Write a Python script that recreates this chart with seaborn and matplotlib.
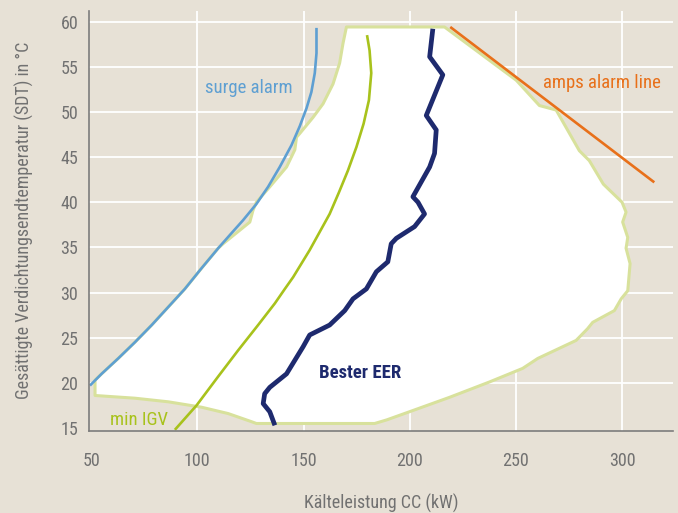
import matplotlib
matplotlib.use("Agg")
import matplotlib.pyplot as plt
from matplotlib import font_manager
import seaborn as sns
import pandas as pd

# --- data -----------------------------------------------------------------
# operating envelope (kW, SDT °C), traced clockwise from the lower left corner
envelope_kw = [51.8, 51.8, 70.6, 86.3, 102.0, 114.5, 125.5, 127.8, 183.5, 189.2,
               199.9, 218.8, 237.6, 253.2, 260.3, 278.4, 283.8, 286.2, 296.4, 299.6,
               302.7, 303.8, 301.9, 302.7, 300.3, 301.9, 300.0, 291.2, 284.6, 279.9,
               269.0, 264.3, 261.1, 250.2, 216.4, 170.2, 168.6, 167.0, 163.9, 159.2,
               154.5, 148.2, 146.7, 145.9, 142.0, 134.1, 127.8, 126.2, 124.7, 120.0,
               112.1, 109.8, 102.0, 94.1, 86.3, 78.5, 70.6, 62.7, 54.9]
envelope_sdt = [20.3, 18.6, 18.3, 17.9, 17.3, 16.6, 15.7, 15.5, 15.5, 15.9,
                16.8, 18.4, 20.1, 21.6, 22.7, 24.7, 26.0, 26.7, 28.0, 29.3,
                30.2, 33.2, 34.9, 36.1, 37.8, 38.9, 40.0, 42.0, 44.6, 45.7,
                50.2, 50.5, 50.7, 53.5, 59.4, 59.4, 57.6, 55.4, 53.1, 50.9,
                49.4, 47.6, 47.2, 45.8, 43.9, 41.7, 40.0, 39.1, 37.8, 36.9,
                35.4, 34.9, 32.7, 30.4, 28.4, 26.4, 24.5, 22.7, 21.0]

surge_kw = [49.4, 54.9, 62.7, 70.6, 78.5, 86.3, 94.1, 102.0, 109.8, 115.8,
            121.5, 127.8, 133.3, 138.8, 144.3, 148.2, 151.4, 153.7, 155.3, 156.1,
            156.1]
surge_sdt = [19.7, 21.0, 22.7, 24.5, 26.4, 28.4, 30.4, 32.7, 34.9, 36.5,
             38.0, 39.8, 41.7, 43.9, 46.3, 48.4, 50.4, 52.2, 54.3, 56.5,
             59.3]

igv_kw = [89.4, 99.6, 109.8, 119.2, 128.6, 136.5, 141.2, 145.1, 152.9, 157.6,
          162.3, 166.7, 170.9, 174.9, 178.3, 180.8, 181.9, 181.1, 179.9]
igv_sdt = [14.8, 17.5, 20.7, 23.6, 26.4, 28.8, 30.4, 31.7, 34.7, 36.7,
           38.7, 41.1, 43.5, 46.1, 48.7, 51.3, 54.3, 56.8, 58.5]

eer_kw = [136.5, 134.1, 131.0, 131.7, 134.1, 142.0, 149.8, 152.9, 162.3, 169.4,
          173.3, 179.6, 184.3, 189.7, 191.3, 193.7, 202.3, 207.0, 203.9, 201.5,
          209.4, 211.7, 212.5, 207.8, 215.6, 209.4, 210.9]
eer_sdt = [15.3, 16.8, 17.7, 18.8, 19.5, 21.0, 24.0, 25.3, 26.4, 28.0,
           29.3, 30.4, 32.3, 33.4, 35.4, 36.0, 37.3, 38.7, 40.0, 40.6,
           43.9, 45.4, 48.0, 49.6, 54.1, 56.1, 59.2]

amps_kw = [219.1, 315.2]
amps_sdt = [59.4, 42.2]

x_ticks = [50, 100, 150, 200, 250, 300]
y_ticks = [15, 20, 25, 30, 35, 40, 45, 50, 55, 60]

# --- colours ----------------------------------------------------------------
BG = "#E7E1D6"
EDGE = "#D8E19C"
SURGE = "#5E9FD2"
IGV = "#A8C21C"
EER = "#1E2A6E"
AMPS = "#E8701A"
TEXT = "#717171"

sns.set_theme(style="white")

available = {f.name for f in font_manager.fontManager.ttflist}
family = next((f for f in ["Liberation Sans Narrow", "Roboto Condensed", "Roboto",
                           "Liberation Sans"] if f in available), "DejaVu Sans")
plt.rcParams["font.family"] = [family, "DejaVu Sans"]

fig = plt.figure(figsize=(6.78, 5.13), dpi=100, facecolor=BG)
ax = fig.add_axes([0.1317, 0.1604, 0.8609, 0.8187])
ax.set_facecolor(BG)

ax.set_xlim(49.1, 324.0)
ax.set_ylim(14.7, 61.2)

# grid behind everything
for xv in x_ticks[1:]:
    ax.axvline(xv, color="white", lw=1.3, zorder=0)
for yv in y_ticks[1:]:
    ax.axhline(yv, color="white", lw=1.3, zorder=0)

# envelope
ax.fill(envelope_kw, envelope_sdt, facecolor="white", edgecolor=EDGE, lw=2.2,
        joinstyle="round", zorder=1)

lines = [
    (surge_kw, surge_sdt, SURGE, 1.9),
    (igv_kw, igv_sdt, IGV, 1.9),
    (amps_kw, amps_sdt, AMPS, 1.9),
    (eer_kw, eer_sdt, EER, 3.4),
]
for xs, ys, col, lw in lines:
    df = pd.DataFrame({"kw": xs, "sdt": ys})
    sns.lineplot(data=df, x="kw", y="sdt", sort=False, estimator=None, color=col,
                 lw=lw, ax=ax, zorder=3, solid_capstyle="butt", solid_joinstyle="round")

# annotations
ax.text(103.6, 52.65, "surge alarm", color=SURGE, fontsize=13.5, va="center", ha="left")
ax.text(263.0, 53.2, "amps alarm line", color=AMPS, fontsize=13.5, va="center", ha="left")
ax.text(58.9, 15.9, "min IGV", color=IGV, fontsize=13.5, va="center", ha="left")
ax.text(157.4, 21.1, "Bester EER", color=EER, fontsize=13.5, fontweight="bold",
        va="center", ha="left", zorder=4)

ax.set_xticks(x_ticks)
ax.set_yticks(y_ticks)
ax.tick_params(axis="both", length=0, labelcolor=TEXT, labelsize=13)
ax.tick_params(axis="x", pad=15)
ax.tick_params(axis="y", pad=8)

ax.set_xlabel("Kälteleistung CC (kW)", color=TEXT, fontsize=13)
ax.set_ylabel("Gesättigte Verdichtungsendtemperatur (SDT) in °C", color=TEXT,
              fontsize=13)
ax.xaxis.label.set_va("center")
ax.yaxis.label.set_va("center")
ax.xaxis.set_label_coords(0.5, -0.172)
ax.yaxis.set_label_coords(-0.112, 0.5)

for side in ["top", "right"]:
    ax.spines[side].set_visible(False)
for side in ["left", "bottom"]:
    ax.spines[side].set_color("#7D7D7D")
    ax.spines[side].set_linewidth(1.2)
    ax.spines[side].set_zorder(5)

fig.savefig("out.png", dpi=100, facecolor=BG)
